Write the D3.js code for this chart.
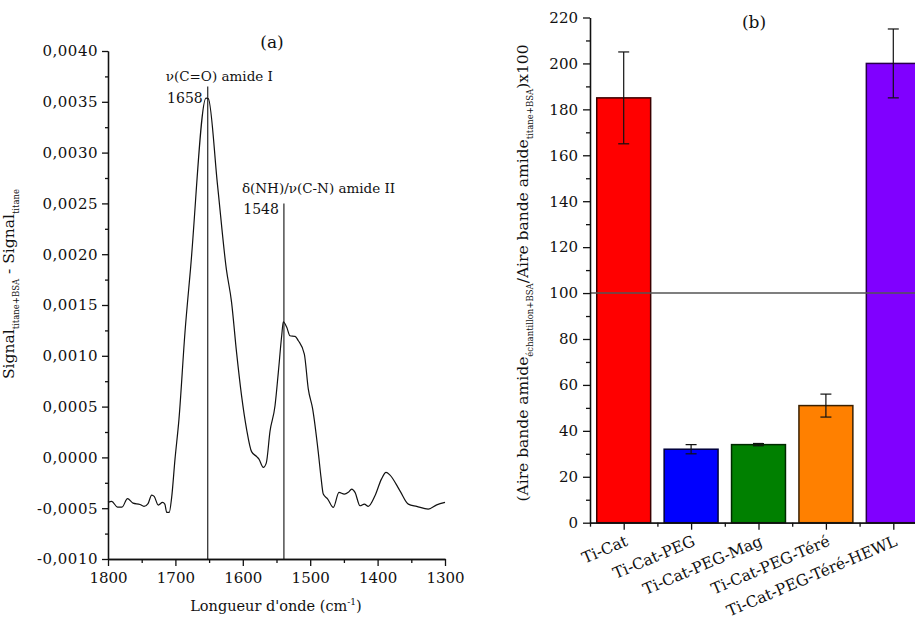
<!DOCTYPE html>
<html><head><meta charset="utf-8">
<script src="https://cdn.jsdelivr.net/npm/d3@7"></script>
<style>
body{margin:0;background:#fff}
text{font-family:"DejaVu Serif",serif;fill:#111}
.axis path,.axis line{stroke:#111;stroke-width:1.3}
.axis text{font-family:"DejaVu Serif",serif;font-size:15px;fill:#111}
</style>
</head><body><svg id="c" width="915" height="626"></svg>
<script>
// ---------- Panel (a) data ----------
const wavenumbers = [1800,1794.5,1785.9,1779.2,1771.1,1762.9,1752.5,1746.6,1740.6,1735.2,1731.5,1725.4,1719.1,1715.7,1712.9,1709.2,1705.5,1700.6,1694.7,1685.8,1677.6,1654.6,1651.2,1637.5,1624.4,1616.7,1609.3,1601.8,1594.4,1587.0,1579.4,1576.0,1569.6,1565.2,1559.6,1552.2,1547.3,1542.3,1539.9,1534.8,1530.0,1522.5,1517.6,1508.7,1502.8,1496.3,1488.0,1484.0,1480.6,1474.0,1465.7,1457.3,1449.4,1443.5,1438.4,1433.5,1426.1,1419.7,1413.8,1403.9,1394.3,1387.5,1381.6,1366.8,1354.4,1342.0,1324.8,1312.3,1300];
const signal = [-0.000443,-0.000433,-0.000489,-0.000489,-0.000406,-0.00045,-0.000463,-0.000482,-0.000455,-0.000371,-0.000384,-0.000469,-0.000443,-0.00046,-0.000541,-0.000541,-0.000391,-0.000017,0.000377,0.00123,0.001853,0.003536,0.003531,0.00268,0.001853,0.001529,0.001036,0.000606,0.000279,0.000057,0.000008,-0.000017,-0.000098,-0.000056,0.000259,0.000508,0.000837,0.001197,0.001335,0.00128,0.001197,0.001191,0.001148,0.001017,0.000672,0.000475,0.000049,-0.000194,-0.000361,-0.00041,-0.000492,-0.000344,-0.000361,-0.000344,-0.000312,-0.000344,-0.000476,-0.00046,-0.000482,-0.000378,-0.000214,-0.000148,-0.000174,-0.000329,-0.00046,-0.000482,-0.000509,-0.000467,-0.000443];
const peakPositions = [1652, 1539];
const peakTops = [0.00365, 0.0025];
const peakNames = ["ν(C=O) amide I", "δ(NH)/ν(C-N) amide II"];
const peakLabels = ["1658", "1548"];
const xTicksA = [1800,1700,1600,1500,1400,1300];
const xMinorA = [1750,1650,1550,1450,1350];
const yTicksA = [-0.001,-0.0005,0,0.0005,0.001,0.0015,0.002,0.0025,0.003,0.0035,0.004];
const yMinorA = [-0.00075,-0.00025,0.00025,0.00075,0.00125,0.00175,0.00225,0.00275,0.00325,0.00375];

// ---------- Panel (b) data ----------
const categories = ["Ti-Cat","Ti-Cat-PEG","Ti-Cat-PEG-Mag","Ti-Cat-PEG-Téré","Ti-Cat-PEG-Téré-HEWL"];
const ratios = [185, 32, 34, 51, 200];
const errors = [20, 2, 0.5, 5, 15];
const barColors = ["#ff0000","#0000ff","#008000","#ff8000","#8000ff"];
const barStrokes = ["#3a0000","#00003a","#002a00","#3a2000","#28004a"];
const referenceLevel = 100;
const yTicksB = [0,20,40,60,80,100,120,140,160,180,200,220];
const yMinorB = [10,30,50,70,90,110,130,150,170,190,210];

const svg = d3.select("#c");
svg.append("rect").attr("width",915).attr("height",626).attr("fill","#fff");

// ===== Panel (a) =====
const xA = d3.scaleLinear().domain([1800,1300]).range([108,445]);
const yA = d3.scaleLinear().domain([-0.001,0.004]).range([559,51]);
const fmtA = v => d3.format(".4f")(v).replace(".",",").replace("−","-");

svg.append("g").attr("class","axis").attr("transform","translate(0,559)")
  .call(d3.axisBottom(xA).tickValues(xTicksA).tickFormat(d3.format("d")).tickSize(7).tickSizeOuter(0).tickPadding(6));
svg.append("g").attr("class","axis").attr("transform","translate(0,559)")
  .call(d3.axisBottom(xA).tickValues(xMinorA).tickFormat("").tickSize(4).tickSizeOuter(0));
const gyA = svg.append("g").attr("class","axis").attr("transform","translate(108,0)")
  .call(d3.axisLeft(yA).tickValues(yTicksA).tickFormat(fmtA).tickSize(6).tickSizeOuter(0).tickPadding(4));
svg.append("g").attr("class","axis").attr("transform","translate(108,0)")
  .call(d3.axisLeft(yA).tickValues(yMinorA).tickFormat("").tickSize(3).tickSizeOuter(0));
gyA.selectAll("text").style("letter-spacing","0.5px");

const spec = wavenumbers.map((w,i)=>({w, s: signal[i]}));
svg.append("path").datum(spec)
  .attr("fill","none").attr("stroke","#111").attr("stroke-width",1.2)
  .attr("d", d3.line().x(d=>xA(d.w)).y(d=>yA(d.s)).curve(d3.curveMonotoneX));

const nameOff = [-5.5, -10.5], numOff = [16, 11];
peakPositions.forEach((p,i)=>{
  svg.append("line").attr("x1",xA(p)).attr("x2",xA(p)).attr("y1",yA(peakTops[i])).attr("y2",yA(-0.001))
    .attr("stroke","#111").attr("stroke-width",1.1);
  svg.append("text").attr("x",xA(p)-42).attr("y",yA(peakTops[i])+nameOff[i]).attr("font-size",13.5).text(peakNames[i]);
  svg.append("text").attr("x",xA(p)-5).attr("y",yA(peakTops[i])+numOff[i]).attr("font-size",14).attr("text-anchor","end").text(peakLabels[i]);
});

svg.append("text").attr("x",272).attr("y",48).attr("text-anchor","middle").attr("font-size",17).text("(a)");

const xtA = svg.append("text").attr("x",276).attr("y",611).attr("text-anchor","middle").attr("font-size",14.5);
xtA.append("tspan").text("Longueur d'onde (cm");
xtA.append("tspan").attr("dy",-6).attr("font-size",9).text("-1");
xtA.append("tspan").attr("dy",6).text(")");

const ytA = svg.append("text").attr("transform","translate(14,284) rotate(-90)").attr("text-anchor","middle").attr("font-size",15.5);
ytA.append("tspan").text("Signal");
ytA.append("tspan").attr("dy",5).attr("font-size",8.5).text("titane+BSA");
ytA.append("tspan").attr("dy",-5).text(" - Signal");
ytA.append("tspan").attr("dy",5).attr("font-size",8.5).text("titane");

// ===== Panel (b) =====
const xB = d3.scaleLinear().domain([0.5,5.5]).range([590,927]);
const yB = d3.scaleLinear().domain([0,220]).range([522.7,17.5]);
const barW = (xB(1.4)-xB(0.6));

const bars = svg.append("g");
categories.forEach((c,i)=>{
  const cx = xB(i+1);
  bars.append("rect").attr("x",cx-barW/2).attr("width",barW)
    .attr("y",yB(ratios[i])).attr("height",yB(0)-yB(ratios[i]))
    .attr("fill",barColors[i]).attr("stroke",barStrokes[i]).attr("stroke-width",1.5);
});
svg.append("line").attr("x1",590).attr("x2",915).attr("y1",yB(referenceLevel)).attr("y2",yB(referenceLevel))
  .attr("stroke","#555").attr("stroke-width",1.5);
categories.forEach((c,i)=>{
  const cx = xB(i+1), hi = yB(ratios[i]+errors[i]), lo = yB(ratios[i]-errors[i]);
  const g = svg.append("g").attr("stroke","#111").attr("stroke-width",1.2);
  g.append("line").attr("x1",cx).attr("x2",cx).attr("y1",hi).attr("y2",lo);
  g.append("line").attr("x1",cx-5.5).attr("x2",cx+5.5).attr("y1",hi).attr("y2",hi);
  g.append("line").attr("x1",cx-5.5).attr("x2",cx+5.5).attr("y1",lo).attr("y2",lo);
});

svg.append("g").attr("class","axis").attr("transform","translate(0,522.7)")
  .call(d3.axisBottom(xB).tickValues([1,2,3,4,5]).tickFormat("").tickSize(7).tickSizeOuter(0));
svg.append("g").attr("class","axis").attr("transform","translate(0,522.7)")
  .call(d3.axisBottom(xB).tickValues([0.5,1.5,2.5,3.5,4.5]).tickFormat("").tickSize(4).tickSizeOuter(0));
svg.append("g").attr("class","axis").attr("transform","translate(590,0)")
  .call(d3.axisLeft(yB).tickValues(yTicksB).tickFormat(d3.format("d")).tickSize(7).tickSizeOuter(0).tickPadding(5));
svg.append("g").attr("class","axis").attr("transform","translate(590,0)")
  .call(d3.axisLeft(yB).tickValues(yMinorB).tickFormat("").tickSize(4).tickSizeOuter(0));

categories.forEach((c,i)=>{
  svg.append("text").attr("transform",`translate(${xB(i+1)+5},545) rotate(-23)`)
    .attr("text-anchor","end").attr("font-size",15.5).text(c);
});

svg.append("text").attr("x",754).attr("y",28).attr("text-anchor","middle").attr("font-size",17).text("(b)");

const ytB = svg.append("text").attr("transform","translate(528,273) rotate(-90)").attr("text-anchor","middle").attr("font-size",15.5);
ytB.append("tspan").text("(Aire bande amide");
ytB.append("tspan").attr("dy",5).attr("font-size",8.5).text("échantillon+BSA");
ytB.append("tspan").attr("dy",-5).text("/Aire bande amide");
ytB.append("tspan").attr("dy",5).attr("font-size",8.5).text("titane+BSA");
ytB.append("tspan").attr("dy",-5).text(")x100");
</script>
</body></html>
